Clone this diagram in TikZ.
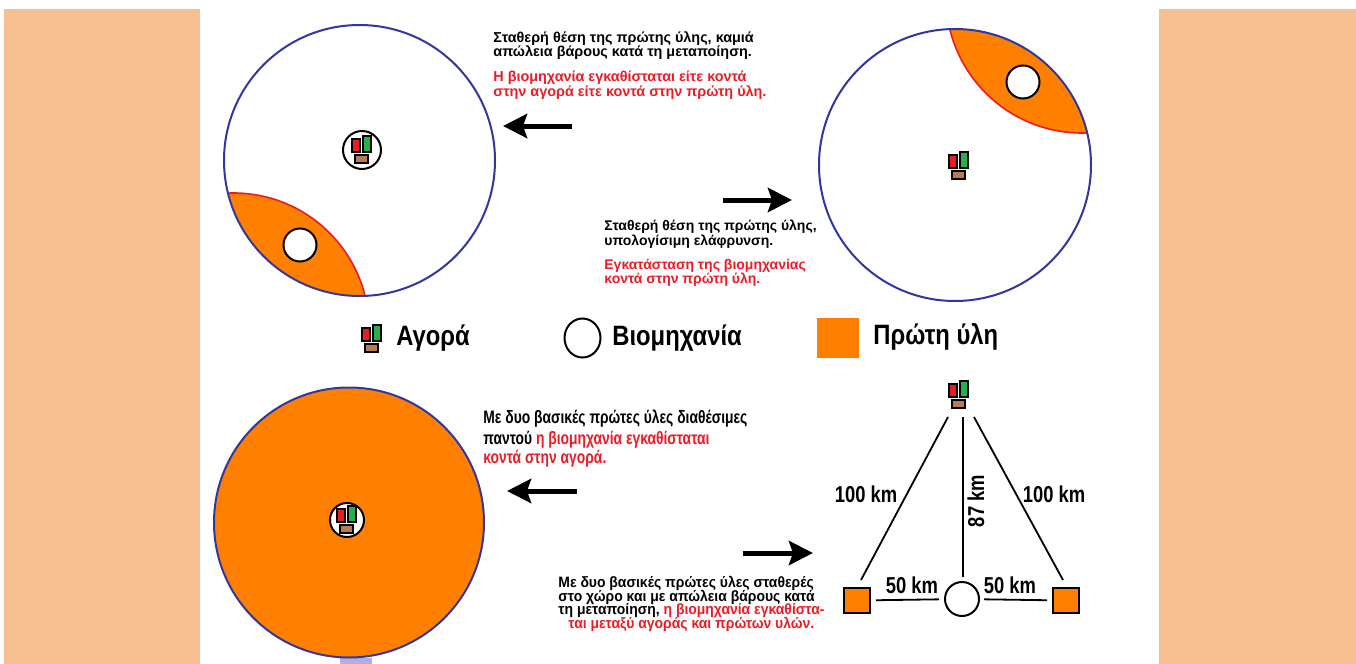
\documentclass[tikz,border=0pt]{standalone}
\usepackage{fontspec}
\setmainfont{Liberation Sans}
\usetikzlibrary{arrows.meta}
\definecolor{peach}{RGB}{248,192,144}
\definecolor{orng}{RGB}{255,128,0}
\definecolor{cblue}{RGB}{50,55,160}
\definecolor{lblue}{RGB}{175,175,225}
\definecolor{tred}{RGB}{237,28,36}
\definecolor{mgreen}{RGB}{34,177,76}
\definecolor{mbrown}{RGB}{185,122,87}
\newcommand\sx[2]{\scalebox{#1}[1]{#2}}
\begin{document}
\begin{tikzpicture}[x=0.5pt,y=-0.5pt,
  market/.pic={
    \filldraw[fill=tred,draw=black,line width=1pt] (-10,-11) rectangle (-2,2);
    \filldraw[fill=mgreen,draw=black,line width=1pt] (1,-14) rectangle (9,2);
    \filldraw[fill=mbrown,draw=black,line width=1pt] (-7,5) rectangle (6,13);
  },
  bigcirc/.style={draw=cblue,line width=1pt},
  lens/.style={fill=orng,draw=tred,line width=0.8pt},
  indcirc/.style={circle,draw=black,fill=white,line width=1pt,minimum size=16.5pt,inner sep=0pt},
  mcirc/.style={circle,draw=black,fill=white,line width=1pt,inner sep=0pt},
  iconbox/.style={inner sep=0pt,minimum width=10pt,minimum height=14pt},
  sqbox/.style={draw=black,fill=orng,line width=1pt,inner sep=0pt,minimum width=13pt,minimum height=12.5pt},
  note/.style={anchor=base west,inner sep=0pt,font=\bfseries\fontsize{7}{8}\selectfont},
  notebig/.style={anchor=base west,inner sep=0pt,font=\bfseries\fontsize{9}{10}\selectfont},
  notemid/.style={anchor=base west,inner sep=0pt,font=\bfseries\fontsize{7.5}{8.5}\selectfont},
  legtext/.style={anchor=base west,inner sep=0pt,font=\bfseries\fontsize{14}{16}\selectfont},
  kmlab/.style={inner sep=0pt,font=\bfseries\fontsize{11.5}{13}\selectfont},
  arr/.style={line width=2.5pt,-{Stealth[length=12pt,width=12pt,inset=2pt]}},
  tline/.style={draw=black,line width=0.9pt}
]
\useasboundingbox (0,0) rectangle (1356,664);
\fill[white] (0,0) rectangle (1356,664);
\fill[peach] (4,9) rectangle (200,664);
\fill[peach] (1159,9) rectangle (1356,664);

% ---- top-left circle
\begin{scope}
  \clip (359.5,160.5) circle (135.5);
  \filldraw[lens] (233.5,328.5) circle (135.5);
\end{scope}
\draw[bigcirc] (359.5,160.5) circle (135.5);
\node[indcirc] (i1) at (300,245) {};
\node[mcirc,minimum size=19pt] (m1) at (362,150) {};
\pic at (m1) {market};

% ---- top-right circle
\begin{scope}
  \clip (955,165) circle (136);
  \filldraw[lens] (1082,-3) circle (136);
\end{scope}
\draw[bigcirc] (955,165) circle (136);
\node[indcirc] (i2) at (1023,82) {};
\node[iconbox] (m2) at (959,166) {};
\pic at (m2) {market};

% ---- bottom-left circle
\fill[lblue] (340,658) rectangle (372,664);
\filldraw[fill=orng,draw=cblue,line width=1pt] (349,522.5) circle (135);
\node[mcirc,minimum size=17pt] (m3) at (347,520) {};
\pic at (m3) {market};

% ---- arrows
\coordinate (a1s) at (572,126); \coordinate (a1e) at (503,126);
\coordinate (a2s) at (723,200); \coordinate (a2e) at (792,200);
\coordinate (a3s) at (577,491); \coordinate (a3e) at (507,491);
\coordinate (a4s) at (743,553); \coordinate (a4e) at (813,553);
\draw[arr] (a1s) -- (a1e);
\draw[arr] (a2s) -- (a2e);
\draw[arr] (a3s) -- (a3e);
\draw[arr] (a4s) -- (a4e);

% ---- texts
\node[note,font=\bfseries\fontsize{7.2}{8}\selectfont] (t1a) at (493,42) {Σταθερή θέση της πρώτης ύλης, καμιά};
\node[note,font=\bfseries\fontsize{7.2}{8}\selectfont] (t1b) at (493,56.5) {απώλεια βάρους κατά τη μεταποίηση.};
\node[note,font=\bfseries\fontsize{7.2}{8}\selectfont,text=tred] (t1c) at (493,82) {Η βιομηχανία εγκαθίσταται είτε κοντά};
\node[note,font=\bfseries\fontsize{7.2}{8}\selectfont,text=tred] (t1d) at (493,96) {στην αγορά είτε κοντά στην πρώτη ύλη.};

\node[note] (t2a) at (604,230) {Σταθερή θέση της πρώτης ύλης,};
\node[note] (t2b) at (604,245) {υπολογίσιμη ελάφρυνση.};
\node[note,text=tred] (t2c) at (604,269) {Εγκατάσταση της βιομηχανίας};
\node[note,text=tred] (t2d) at (604,283.5) {κοντά στην πρώτη ύλη.};

\node[notebig] (t3a) at (483,423) {\sx{0.77}{Με δυο βασικές πρώτες ύλες διαθέσιμες}};
\node[notebig] (t3b) at (483,444.5) {\sx{0.77}{παντού \textcolor{tred}{η βιομηχανία εγκαθίσταται}}};
\node[notebig,text=tred] (t3c) at (483,463) {\sx{0.77}{κοντά στην αγορά.}};

\node[notemid] (t4a) at (558,587) {\sx{0.93}{Με δυο βασικές πρώτες ύλες σταθερές}};
\node[notemid] (t4b) at (558,601) {\sx{0.93}{στο χώρο και με απώλεια βάρους κατά}};
\node[notemid] (t4c) at (558,614.5) {\sx{0.93}{τη μεταποίηση, \textcolor{tred}{η βιομηχανία εγκαθίστα-}}};
\node[notemid,text=tred] (t4d) at (568,628) {\sx{0.93}{ται μεταξύ αγοράς και πρώτων υλών.}};

% ---- legend
\node[iconbox] (lg1) at (372,339) {};
\pic at (lg1) {market};
\node[legtext] (lt1) at (396,345) {\sx{0.85}{Αγορά}};
\draw[black,line width=1pt,fill=white] (582.5,338) ellipse (18 and 19.5);
\node[legtext] (lt2) at (612,345) {\sx{0.85}{Βιομηχανία}};
\fill[orng] (817,318) rectangle (859,358);
\node[legtext] (lt3) at (873,344) {\sx{0.85}{Πρώτη ύλη}};

% ---- triangle diagram
\node[iconbox] (mk) at (959,395) {};
\pic at (mk) {market};
\node[sqbox] (sqL) at (857,600.5) {};
\node[sqbox] (sqR) at (1066,600.5) {};
\node[indcirc,minimum size=17pt] (ind) at (962,599) {};
\coordinate (aL) at (948,417); \coordinate (fL) at (861,580);
\coordinate (aM) at (963,417); \coordinate (fM) at (963,577);
\coordinate (aR) at (974,417); \coordinate (fR) at (1063,580);
\draw[tline] (aL) -- (fL);
\draw[tline] (aM) -- (fM);
\draw[tline] (aR) -- (fR);
\draw[tline,shorten <=2.5pt,shorten >=2.5pt] (sqL) -- (ind);
\draw[tline,shorten <=2pt,shorten >=2.5pt] (ind) -- (sqR);
\node[kmlab] (k1) at (866,494) {\sx{0.8}{100 km}};
\node[kmlab] (k2) at (1054,494) {\sx{0.8}{100 km}};
\node[kmlab,rotate=90] (k3) at (976,501) {\sx{0.8}{87 km}};
\node[kmlab] (k4) at (912,585) {\sx{0.8}{50 km}};
\node[kmlab] (k5) at (1010,585) {\sx{0.8}{50 km}};
\end{tikzpicture}
\end{document}
